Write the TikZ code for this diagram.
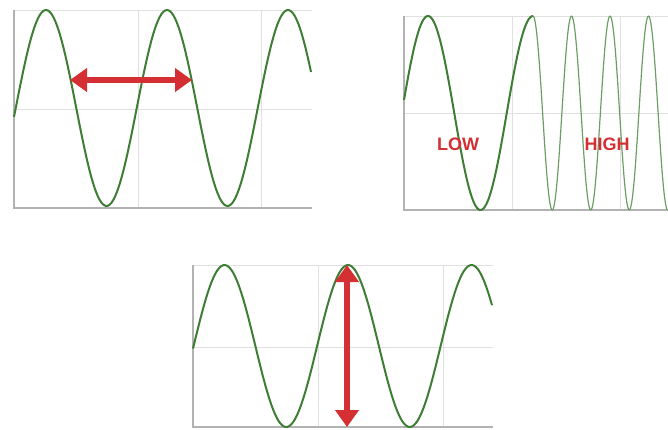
\documentclass[tikz,border=0pt]{standalone}
\usepackage{fontspec}
\setmainfont{Liberation Sans}
\usetikzlibrary{arrows.meta}

\definecolor{wavegreen}{RGB}{62,125,52}
\definecolor{markred}{RGB}{212,48,52}

\begin{document}
\begin{tikzpicture}[x=1pt, y=-1pt,
  wave/.style={draw=wavegreen, line width=2pt, line join=round},
  fastwave/.style={draw=wavegreen!75, line width=1.2pt, line join=round},
  gridline/.style={draw=black!12, line width=1pt},
  axisline/.style={draw=black!30, line width=1.6pt},
  marker/.style={draw=markred, line width=6pt,
    {Triangle[length=17pt, width=23pt]}-{Triangle[length=17pt, width=23pt]}},
  tag/.style={text=markred, font=\bfseries\fontsize{18}{18}\selectfont, inner sep=0pt}]
  \useasboundingbox (0,0) rectangle (668,429);

  % wavelength
  \draw[gridline] (14,10) -- (312,10) (14,109) -- (312,109)
    (138,10) -- (138,208) (261,10) -- (261,208);
  \draw[axisline] (14,10) |- (312,208);
  \draw[wave] plot[domain=14:311, samples=150] (\x, {108-98*cos((\x-46)/121*360)});
  \coordinate (wl) at (70,80);
  \coordinate (wr) at (192,80);
  \draw[marker] (wl) -- (wr);

  % frequency
  \draw[gridline] (404,16) -- (668,16) (404,113) -- (668,113)
    (512,16) -- (512,210) (620,16) -- (620,210);
  \draw[axisline] (404,16) |- (668,210);
  \draw[wave] plot[domain=404:533, samples=100] (\x, {113-97*cos((\x-428)/105*360)});
  \draw[fastwave] plot[domain=533:668, samples=200] (\x, {113-97*cos((\x-533)/38.5*360)});
  \node[tag] (low) at (458,144) {LOW};
  \node[tag] (high) at (607,144) {HIGH};

  % amplitude
  \draw[gridline] (193,265) -- (493,265) (193,347) -- (493,347)
    (318,265) -- (318,427) (443,265) -- (443,427);
  \draw[axisline] (193,265) |- (493,427);
  \draw[wave] plot[domain=193:492, samples=150] (\x, {346-81*cos((\x-348)/123.5*360)});
  \coordinate (at) at (347,265);
  \coordinate (ab) at (347,427);
  \draw[marker] (at) -- (ab);
\end{tikzpicture}
\end{document}
